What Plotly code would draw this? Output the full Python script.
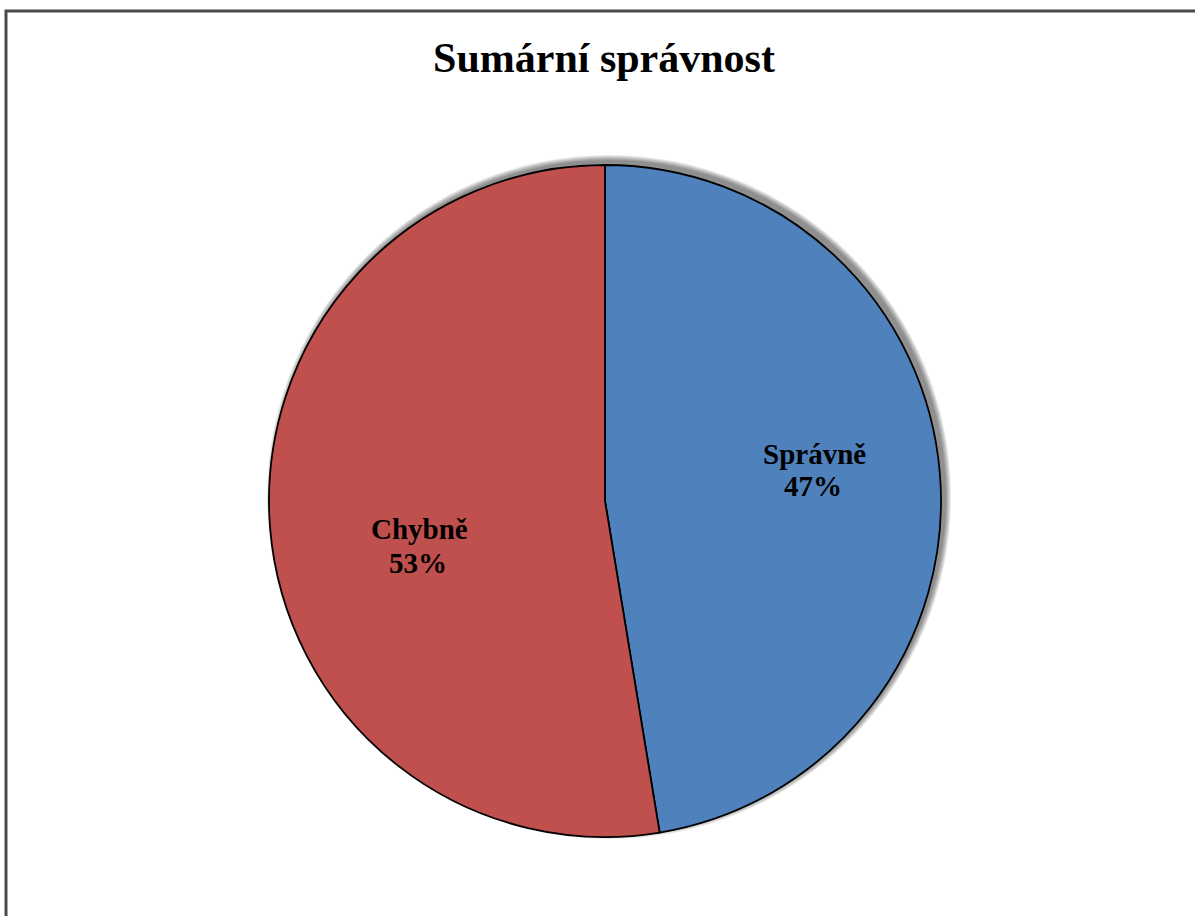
import plotly.graph_objects as go

labels = ["Správně", "Chybně"]
values = [47.4, 52.6]
colors = ["#4F81BD", "#C0504D"]
title_text = "Sumární správnost"

W, H = 1195, 916
cx, cy, r = 605, 501, 336
# label block centres (pixels): line 1, line 2
label_pos = [((814, 454), (813, 486)), ((420, 529), (418, 563))]

fig = go.Figure()
fig.add_trace(go.Pie(
    labels=labels,
    values=values,
    sort=False,
    direction="clockwise",
    rotation=0,
    marker=dict(colors=colors, line=dict(color="black", width=1.8)),
    textinfo="none",
    domain=dict(x=[(cx - r) / W, (cx + r) / W], y=[1 - (cy + r) / H, 1 - (cy - r) / H]),
    showlegend=False,
    hoverinfo="label+percent",
))

# soft shadow behind the pie (toward upper right)
shapes = []
ox, oy = 4, -4
for i in range(6, 0, -1):
    R = r + i
    shapes.append(dict(type="circle", xref="paper", yref="paper", layer="below",
                       x0=(cx + ox - R) / W, x1=(cx + ox + R) / W,
                       y0=1 - (cy + oy + R) / H, y1=1 - (cy + oy - R) / H,
                       line=dict(width=0), fillcolor="rgba(0,0,0,0.09)"))
shapes.append(dict(type="rect", xref="paper", yref="paper",
                   x0=6 / W, x1=1.05, y0=-0.05, y1=1 - 11 / H,
                   line=dict(color="#4a4a4a", width=3), fillcolor="rgba(0,0,0,0)"))

total = sum(values)
annotations = []
for lab, val, (p1, p2) in zip(labels, values, label_pos):
    pct = f"{round(100 * val / total)}%"
    for txt, (px, py) in ((lab, p1), (pct, p2)):
        annotations.append(dict(text="<b>" + txt + "</b>", x=px / W, y=1 - py / H,
                                xref="paper", yref="paper", xanchor="center", yanchor="middle",
                                showarrow=False,
                                font=dict(family="Liberation Serif", size=29, color="black")))

fig.update_layout(
    width=W, height=H,
    margin=dict(l=0, r=0, t=0, b=0),
    paper_bgcolor="white",
    plot_bgcolor="white",
    title=dict(text="<b>" + title_text + "</b>", x=604 / W, xanchor="center", y=1 - 57 / H, yanchor="middle",
               font=dict(family="Liberation Serif", size=42, color="black")),
    shapes=shapes,
    annotations=annotations,
)

fig.write_html("out.html")
